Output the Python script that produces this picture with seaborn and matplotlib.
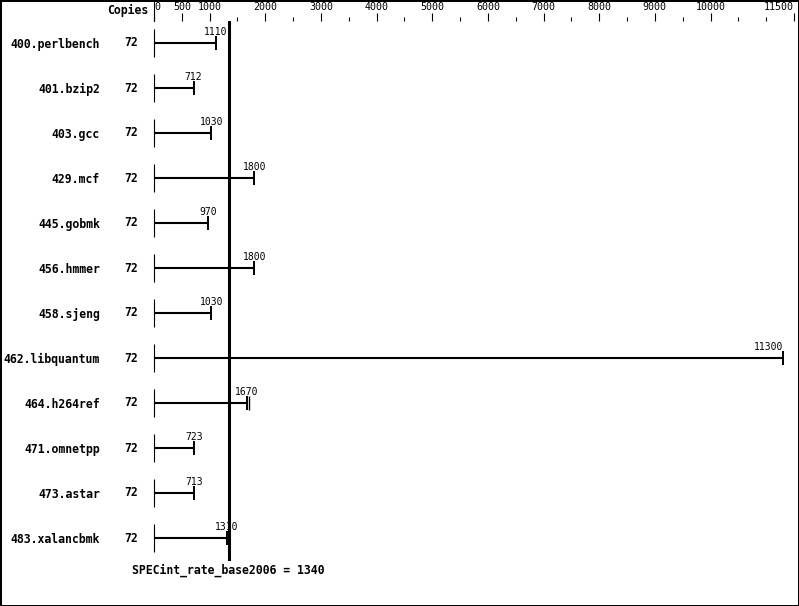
import matplotlib
matplotlib.use("Agg")
import matplotlib.pyplot as plt
import matplotlib.ticker as mticker
import seaborn as sns
import pandas as pd

benchmarks = ["400.perlbench", "401.bzip2", "403.gcc", "429.mcf", "445.gobmk",
              "456.hmmer", "458.sjeng", "462.libquantum", "464.h264ref",
              "471.omnetpp", "473.astar", "483.xalancbmk"]
copies = [72, 72, 72, 72, 72, 72, 72, 72, 72, 72, 72, 72]
ratios = [1110, 712, 1030, 1800, 970, 1800, 1030, 11300, 1670, 723, 713, 1310]
extra_run = [None, None, None, None, None, None, None, None, 1700, None, None, None]
base_score = 1340
score_label = "SPECint_rate_base2006 = 1340"
major_ticks = [0, 500, 1000, 2000, 3000, 4000, 5000, 6000, 7000, 8000, 9000, 10000, 11500]
major_labels = ["0", "500", "1000", "2000", "3000", "4000", "5000", "6000", "7000",
                "8000", "9000", "10000", "11500"]
minor_ticks = [1500, 2500, 3500, 4500, 5500, 6500, 7500, 8500, 9500, 10500, 11000]
x_max = 11500

sns.set_style("white")
plt.rcParams['font.family'] = ['DejaVu Sans Mono', 'DejaVu Sans']
plt.rcParams['text.color'] = 'black'
plt.rcParams['xtick.color'] = 'black'
plt.rcParams['ytick.color'] = 'black'
plt.rcParams['xtick.labelcolor'] = 'black'
plt.rcParams['ytick.labelcolor'] = 'black'

W, H = 799, 606
fig = plt.figure(figsize=(W / 100, H / 100), dpi=100, linewidth=1.0, edgecolor="black")
ax_top_px, ax_bot_px = 20.5, 560.5
ax_left_px, ax_right_px = 154, 794
ax = fig.add_axes([ax_left_px / W, 1 - ax_bot_px / H,
                   (ax_right_px - ax_left_px) / W, (ax_bot_px - ax_top_px) / H])
ax.set_facecolor("none")

rows = list(range(len(benchmarks)))
df = pd.DataFrame({"bench": benchmarks, "row": rows, "ratio": ratios, "zero": [0] * len(rows)})

# bars
ax.hlines(df["row"], 0, df["ratio"], color="black", linewidth=1.5)
# start ticks
sns.scatterplot(data=df, x="zero", y="row", marker="|", s=380, linewidth=0.8,
                color="black", ax=ax, clip_on=False, legend=False)
# end ticks
sns.scatterplot(data=df, x="ratio", y="row", marker="|", s=100, linewidth=1.4,
                color="black", ax=ax, clip_on=False, legend=False)
ex = pd.DataFrame({"x": [e for e in extra_run if e is not None],
                   "row": [r for r, e in zip(rows, extra_run) if e is not None]})
sns.scatterplot(data=ex, x="x", y="row", marker="|", s=100, linewidth=1.0,
                color="black", ax=ax, clip_on=False, legend=False)

# value labels
for r, v in zip(rows, ratios):
    ha = "right" if v > 0.95 * x_max else "center"
    ax.text(v, r - 0.24, str(v), ha=ha, va="center", fontsize=7.0, color="black")

# copies column
for r, c in zip(rows, copies):
    ax.text((131 - ax_left_px) / (ax_right_px - ax_left_px), r, str(c),
            transform=ax.get_yaxis_transform(), ha="center", va="center",
            fontsize=8.3, fontweight="bold")

# reference line
ax.axvline(base_score, color="black", linewidth=2.2)
ax.text(base_score, (ax_bot_px - 570) / (ax_bot_px - ax_top_px), score_label,
        transform=ax.get_xaxis_transform(), ha="center", va="center",
        fontsize=8.3, fontweight="bold")

# zero line up to top
ax.axvline(0, ymin=1, ymax=1 + ax_top_px / (ax_bot_px - ax_top_px),
           color="black", linewidth=0.8, clip_on=False)

ax.set_xlim(0, x_max)
ax.set_ylim(len(rows) - 0.5, -0.5)
ax.xaxis.tick_top()
ax.xaxis.set_major_locator(mticker.FixedLocator(major_ticks))
ax.xaxis.set_minor_locator(mticker.FixedLocator(minor_ticks))
ax.set_xticklabels(major_labels)
ax.tick_params(axis="x", which="major", top=True, bottom=False, length=5.5, width=0.8,
               pad=0.3, labelsize=7.2, direction="out", color="black")
ax.tick_params(axis="x", which="minor", top=True, bottom=False, length=2.8, width=0.8,
               direction="out", color="black")
labels = ax.get_xticklabels()
labels[0].set_ha("left")
labels[-1].set_ha("right")
ax.set_yticks(rows)
ax.set_yticklabels(benchmarks, fontsize=8.3, fontweight="bold")
ax.tick_params(axis="y", length=0, pad=38.9)
ax.set_xlabel("")
ax.set_ylabel("")
for s in ax.spines.values():
    s.set_visible(False)

fig.text(128 / W, 1 - 10 / H, "Copies", ha="center", va="center",
         fontsize=8.3, fontweight="bold")

fig.savefig("out.png", dpi=100, facecolor="white", edgecolor="black")
